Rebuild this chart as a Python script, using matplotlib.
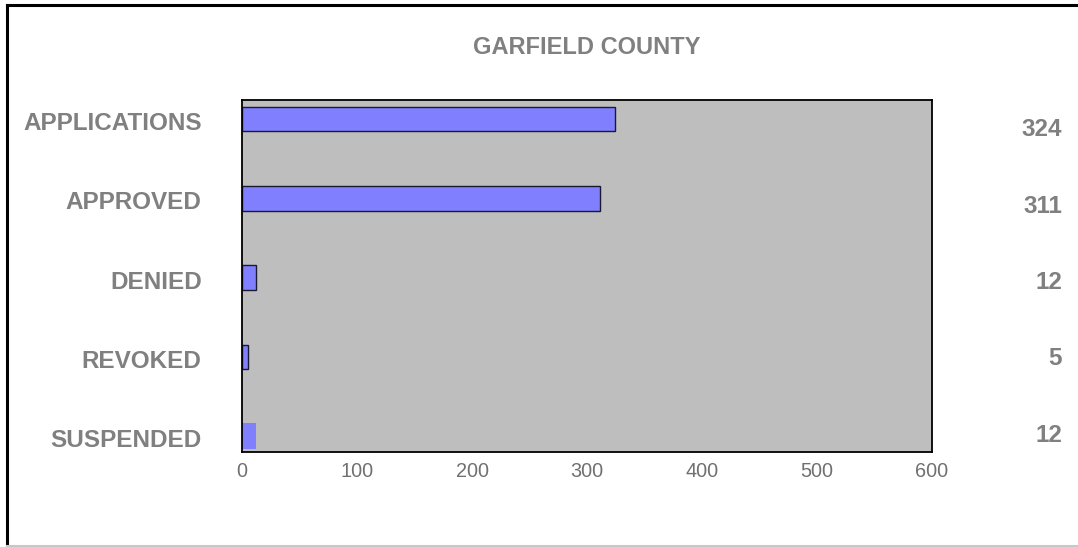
import matplotlib

matplotlib.use("Agg")
import matplotlib.pyplot as plt
from matplotlib.lines import Line2D
from matplotlib.transforms import ScaledTranslation

categories = ["APPLICATIONS", "APPROVED", "DENIED", "REVOKED", "SUSPENDED"]
counts = [324, 311, 12, 5, 12]
x_ticks = [0, 100, 200, 300, 400, 500, 600]
title = "GARFIELD COUNTY"

W, H = 1078, 547
gray_text = "#808080"

plt.rcParams["font.family"] = ["Liberation Sans", "DejaVu Sans"]

fig = plt.figure(figsize=(W / 100, H / 100), dpi=100)
fig.patch.set_facecolor("white")

# plot area in pixels: x 242..932, y 100..452
ax = fig.add_axes([242 / W, 1 - 452 / H, 690 / W, 352 / H])
ax.set_facecolor("#bebebe")

ypos = list(range(len(categories)))
for i, (y, v) in enumerate(zip(ypos, counts)):
    last = i == len(categories) - 1
    ax.barh(y, v, height=0.31 if not last else 0.33, color="#8080ff",
            edgecolor="none" if last else "#1a1a2e", linewidth=1.0, zorder=2)

ax.set_xlim(0, 600)
ax.set_ylim(4.2, -0.24)
ax.set_xticks(x_ticks)
ax.set_xticklabels([str(t) for t in x_ticks], fontsize=14.3, color="#707070")
ax.set_yticks(ypos)
ax.set_yticklabels(categories, fontsize=17.5, fontweight="bold", color=gray_text)
ax.tick_params(axis="y", length=0, pad=29)
ax.tick_params(axis="x", length=0, pad=7)
# nudge category labels slightly down
for lab in ax.get_yticklabels():
    lab.set_transform(lab.get_transform() + ScaledTranslation(0, -2 / 100, fig.dpi_scale_trans))
for s in ax.spines.values():
    s.set_color("black")
    s.set_linewidth(1.3)

# value column on the right
for i, v in enumerate(counts):
    fig.text(1062 / W, 1 - (130 + i * 76.25) / H, str(v), ha="right", va="center",
             fontsize=17.5, fontweight="bold", color=gray_text)

fig.text(587 / W, 1 - 47 / H, title, ha="center", va="center",
         fontsize=17, fontweight="bold", color=gray_text)

# chart frame: dark left/top, light right/bottom
fig.add_artist(Line2D([7 / W, 7 / W], [1 - 5 / H, 1 - 545.5 / H], color="black", lw=2.2))
fig.add_artist(Line2D([7 / W, 1.0], [1 - 5 / H, 1 - 5 / H], color="black", lw=2.2))
fig.add_artist(Line2D([7 / W, 1.0], [1 - 545.5 / H, 1 - 545.5 / H], color="#c8c8c8", lw=1.5))

fig.savefig("out.png", dpi=100)
plt.close(fig)
